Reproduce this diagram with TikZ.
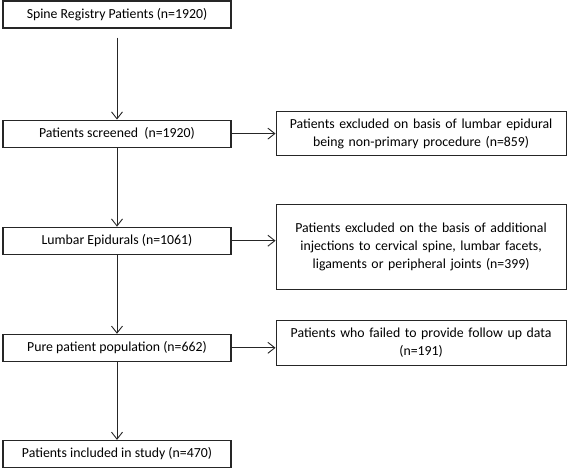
\documentclass[tikz,border=0pt]{standalone}
\usepackage{fontspec}
\setmainfont{Carlito}
\usetikzlibrary{arrows.meta, positioning}

\begin{document}
\begin{tikzpicture}[
    x=1pt, y=-1pt,
    % Define styles
    box/.style={rectangle, draw=black!85, line width=1.1pt, font=\fontsize{13.8}{18}\selectfont, align=center, inner sep=0pt},
    stage/.style={box, minimum width=228pt, minimum height=27pt},
    excluded/.style={box, minimum width=290pt, text width=286pt},
    arrow/.style={-{Straight Barb[length=7pt, width=11pt]}, line width=0.9pt, draw=black!85},
    ]
    \useasboundingbox (0,0) rectangle (567,467);

    % Main nodes
    \node[stage] (spine) at (117, 14.5) {Spine Registry Patients (n=1920)};
    \node[stage, below=91pt of spine] (screened) {Patients screened\ \ (n=1920)};
    \node[stage, below=79pt of screened] (lumbar) {Lumbar Epidurals (n=1061)};
    \node[stage, below=79pt of lumbar] (pure) {Pure patient population (n=662)};
    \node[stage, below=78pt of pure] (included) {Patients included in study (n=470)};

    % Exclusion boxes
    \node[excluded, minimum height=44pt, right=44pt of screened] (excl1) {Patients excluded on basis of lumbar epidural\\being non-primary procedure (n=859)};
    \node[excluded, minimum height=85pt, right=44pt of lumbar, yshift=-6pt] (excl2) {Patients excluded on the basis of additional\\injections to cervical spine, lumbar facets,\\ligaments or peripheral joints (n=399)};
    \node[excluded, minimum height=45pt, right=44pt of pure, yshift=5pt] (excl3) {Patients who failed to provide follow up data\\(n=191)};

    % Arrows
    \draw[arrow, shorten <=9pt] (spine) -- (screened);
    \draw[arrow] (screened) -- (lumbar);
    \draw[arrow] (lumbar) -- (pure);
    \draw[arrow] (pure) -- (included);

    % Arrows to exclusions
    \draw[arrow] (screened) -- (excl1);
    \draw[arrow] (lumbar.east) -- (lumbar.east -| excl2.west);
    \draw[arrow] (pure.east) -- (pure.east -| excl3.west);

\end{tikzpicture}
\end{document}
